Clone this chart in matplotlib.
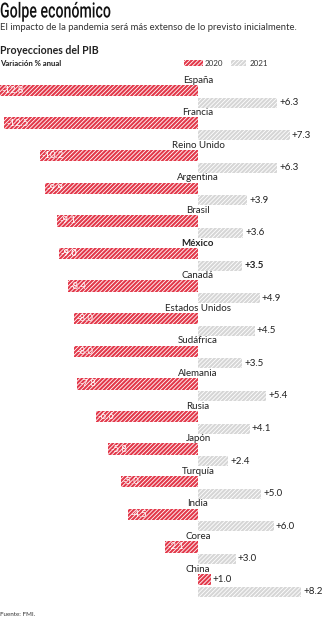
import matplotlib
matplotlib.use("Agg")
import matplotlib.pyplot as plt
from matplotlib.patches import Rectangle
from matplotlib.patheffects import AbstractPathEffect
from matplotlib.transforms import Affine2D
import numpy as np

countries = ["España", "Francia", "Reino Unido", "Argentina", "Brasil", "México", "Canadá",
             "Estados Unidos", "Sudáfrica", "Alemania", "Rusia", "Japón", "Turquía", "India",
             "Corea", "China"]
v2020 = [-12.8, -12.5, -10.2, -9.9, -9.1, -9.0, -8.4, -8.0, -8.0, -7.8, -6.6, -5.8, -5.0, -4.5, -2.1, 1.0]
v2021 = [6.3, 7.3, 6.3, 3.9, 3.6, 3.5, 4.9, 4.5, 3.5, 5.4, 4.1, 2.4, 5.0, 6.0, 3.0, 8.2]
highlight = "México"

RED = "#e2384a"
GRAY = "#d6d6d6"
FONT = ["Lato", "DejaVu Sans"]

plt.rcParams["font.family"] = FONT
plt.rcParams["hatch.linewidth"] = 0.6


class Condense(AbstractPathEffect):
    """Draw text narrower (condensed look) by scaling x about the left edge."""
    def __init__(self, sx=0.72):
        super().__init__()
        self.sx = sx

    def draw_path(self, renderer, gc, tpath, affine, rgbFace=None):
        affine = affine + Affine2D().scale(self.sx, 1.0)
        renderer.draw_path(gc, tpath, affine, rgbFace)


W, H = 325, 620
fig = plt.figure(figsize=(W / 100, H / 100), dpi=100)
ax = fig.add_axes([0, 0, 1, 1])

NEG, POS = 15.5, 12.6
def fwd(x):
    x = np.asarray(x, dtype=float)
    return np.where(x < 0, x * NEG, x * POS)
def inv(x):
    x = np.asarray(x, dtype=float)
    return np.where(x < 0, x / NEG, x / POS)
ax.set_xscale("function", functions=(fwd, inv))
x0 = 198
ax.set_xlim(-x0 / NEG, (W - x0) / POS)

step = 32.6
top = 80
ax.set_ylim((H - top) / step, -top / step)
ax.axis("off")

y = np.arange(len(countries))
yr = y + 10.5 / step
yg = y + 22.5 / step

HATCH = "////////"
ax.barh(yr, v2020, height=11.5 / step, color=RED, edgecolor="white", linewidth=0, hatch=HATCH)
ax.barh(yg, v2021, height=10 / step, color=GRAY, edgecolor="white", linewidth=0, hatch=HATCH)

for i, c in enumerate(countries):
    bold = "bold" if c == highlight else "normal"
    ax.text(0, y[i], c, ha="center", va="center", fontsize=7, color="#222222", fontweight=bold)
    a = v2020[i]
    if a < 0:
        ax.text(inv(fwd(a) + 2), yr[i], f"{a:.1f}", ha="left", va="center", fontsize=6.8,
                color="white", fontweight=bold)
    else:
        ax.text(inv(fwd(a) + 1.5), yr[i], f"+{a:.1f}", ha="left", va="center", fontsize=7,
                color="#222222", fontweight=bold)
    b = v2021[i]
    ax.text(inv(fwd(b) + 2), yg[i], f"+{b:.1f}", ha="left", va="center", fontsize=7,
            color="#222222", fontweight=bold)

def fx(px):
    return px / W
def fy(py):
    return 1 - py / H

fig.text(fx(0), fy(12), "Golpe económico", ha="left", va="center", fontsize=15,
         family=["Roboto", "DejaVu Sans"], fontweight="medium", color="#111111",
         path_effects=[Condense(0.68)])
fig.text(fx(0), fy(27.5), "El impacto de la pandemia será más extenso de lo previsto inicialmente.",
         ha="left", va="center", fontsize=6.85, color="#333333")
fig.text(fx(0), fy(51), "Proyecciones del PIB", ha="left", va="center", fontsize=7.6,
         fontweight="bold", color="#222222")
fig.text(fx(0), fy(63), "Variación % anual", ha="left", va="center", fontsize=5.6,
         fontweight="bold", color="#222222")

fig.patches.append(Rectangle((fx(184), fy(66)), 19 / W, 6 / H, transform=fig.transFigure,
                             facecolor=RED, edgecolor="white", linewidth=0, hatch=HATCH))
fig.text(fx(205), fy(63), "2020", ha="left", va="center", fontsize=5.8, color="#333333")
fig.patches.append(Rectangle((fx(231), fy(66)), 15 / W, 6 / H, transform=fig.transFigure,
                             facecolor=GRAY, edgecolor="white", linewidth=0, hatch=HATCH))
fig.text(fx(250), fy(63), "2021", ha="left", va="center", fontsize=5.8, color="#333333")

fig.text(fx(0), fy(614), "Fuente: FMI.", ha="left", va="center", fontsize=4.5, color="#333333")

fig.savefig("out.png", dpi=100, facecolor="white")
